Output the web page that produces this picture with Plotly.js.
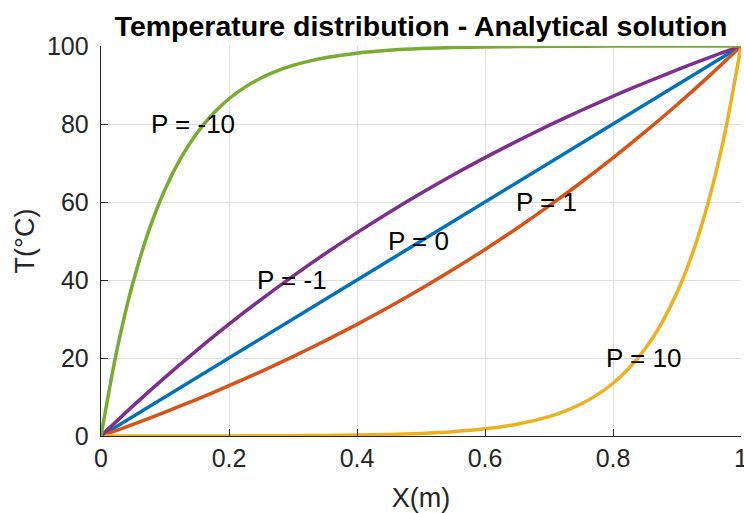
<!DOCTYPE html>
<html><head><meta charset="utf-8">
<script src="https://cdn.plot.ly/plotly-3.0.1.min.js"></script>
<style>html,body{margin:0;padding:0;background:#fff;}#c{width:744px;height:513px;}</style>
</head><body><div id="c"></div>
<script>
// Values
const xP0 = [0, 1];
const tP0 = [0, 100];

const xP1 = [0,0.05,0.1,0.15,0.2,0.25,0.3,0.35,0.4,0.45,0.5,0.55,0.6,0.65,0.7,0.75,0.8,0.85,0.9,0.95,1];
const tP1 = [0,2.98,6.12,9.42,12.89,16.53,20.36,24.39,28.62,33.07,37.75,42.67,47.84,53.28,58.99,65.0,71.32,77.96,84.94,92.28,100];

const xPm1 = [0,0.05,0.1,0.15,0.2,0.25,0.3,0.35,0.4,0.45,0.5,0.55,0.6,0.65,0.7,0.75,0.8,0.85,0.9,0.95,1];
const tPm1 = [0,7.72,15.05,22.04,28.68,34.99,41.0,46.72,52.15,57.33,62.25,66.93,71.38,75.61,79.64,83.47,87.11,90.58,93.88,97.02,100];

const xP10 = [0,0.1,0.2,0.3,0.35,0.4,0.45,0.5,0.55,0.6,0.65,0.7,0.725,0.75,0.775,0.8,0.825,0.85,0.875,0.9,0.925,0.95,0.975,1];
const tP10 = [0,0.01,0.03,0.09,0.15,0.24,0.40,0.67,1.11,1.83,3.02,4.97,6.39,8.20,10.54,13.53,17.37,22.31,28.65,36.78,47.23,60.65,77.88,100];

const xPm10 = [0,0.025,0.05,0.075,0.1,0.125,0.15,0.175,0.2,0.225,0.25,0.275,0.3,0.325,0.35,0.4,0.45,0.5,0.55,0.6,0.65,0.7,0.8,0.9,1];
const tPm10 = [0,22.12,39.35,52.77,63.21,71.35,77.69,82.62,86.47,89.46,91.79,93.61,95.02,96.12,96.98,98.17,98.89,99.33,99.59,99.75,99.85,99.91,99.97,99.99,100];

const labels = ["P = -10","P = -1","P = 0","P = 1","P = 10"];
const labelX = [0.08,0.245,0.45,0.65,0.79];
const labelY = [80,40,50,60,20];

const xTicks = [0,0.2,0.4,0.6,0.8,1];
const xTickText = ['0','0.2','0.4','0.6','0.8','1'];
const yTicks = [0,20,40,60,80,100];

const series = [
  {x:xP0, y:tP0, c:'#0072BD'},
  {x:xP1, y:tP1, c:'#D95319'},
  {x:xP10, y:tP10, c:'#EDB120'},
  {x:xPm1, y:tPm1, c:'#7E2F8E'},
  {x:xPm10, y:tPm10, c:'#77AC30'}
];
const traces = series.map(s => ({
  x:s.x, y:s.y, type:'scatter', mode:'lines', cliponaxis:false,
  line:{color:s.c, width:3.5, shape:'spline', smoothing:0.8},
  hoverinfo:'none', showlegend:false
}));

const FF = 'Liberation Sans, Arial, Helvetica, sans-serif';
const tickFont = {family:FF, color:'#262626', size:25};
const labFont = {family:FF, color:'#262626', size:27};
const layout = {
  width:744, height:513,
  margin:{l:101, r:3, t:46, b:77},
  paper_bgcolor:'#fff', plot_bgcolor:'#fff',
  font:tickFont,
  title:{text:'<b>Temperature distribution - Analytical solution</b>', x:0.5, xref:'paper', y:0.95, yref:'container', yanchor:'middle',
         font:{family:FF, size:28.5, color:'#000'}},
  xaxis:{range:[0,1], tickvals:xTicks, ticktext:xTickText, tickfont:tickFont, ticklabeloverflow:'allow',
         showgrid:true, gridcolor:'#dfdfdf', gridwidth:1, zeroline:false,
         showline:true, linecolor:'#262626', linewidth:1.3, ticks:'inside', ticklen:7, tickcolor:'#262626',
         title:{text:'X(m)', font:labFont, standoff:16}, fixedrange:true},
  yaxis:{range:[0,100], tickvals:yTicks, tickfont:tickFont, ticklabelstandoff:6, ticklabeloverflow:'allow',
         showgrid:true, gridcolor:'#dfdfdf', gridwidth:1, zeroline:false,
         showline:true, linecolor:'#262626', linewidth:1.3, ticks:'inside', ticklen:7, tickcolor:'#262626',
         title:{text:'T(°C)', font:labFont, standoff:4}, fixedrange:true},
  annotations: labels.map((t,i)=>({x:labelX[i], y:labelY[i], xref:'x', yref:'y', text:t, showarrow:false, xshift:-3,
         xanchor:'left', yanchor:'middle', font:{family:FF, size:26, color:'#000'}}))
};
Plotly.newPlot('c', traces, layout, {staticPlot:true, displayModeBar:false});
</script></body></html>
